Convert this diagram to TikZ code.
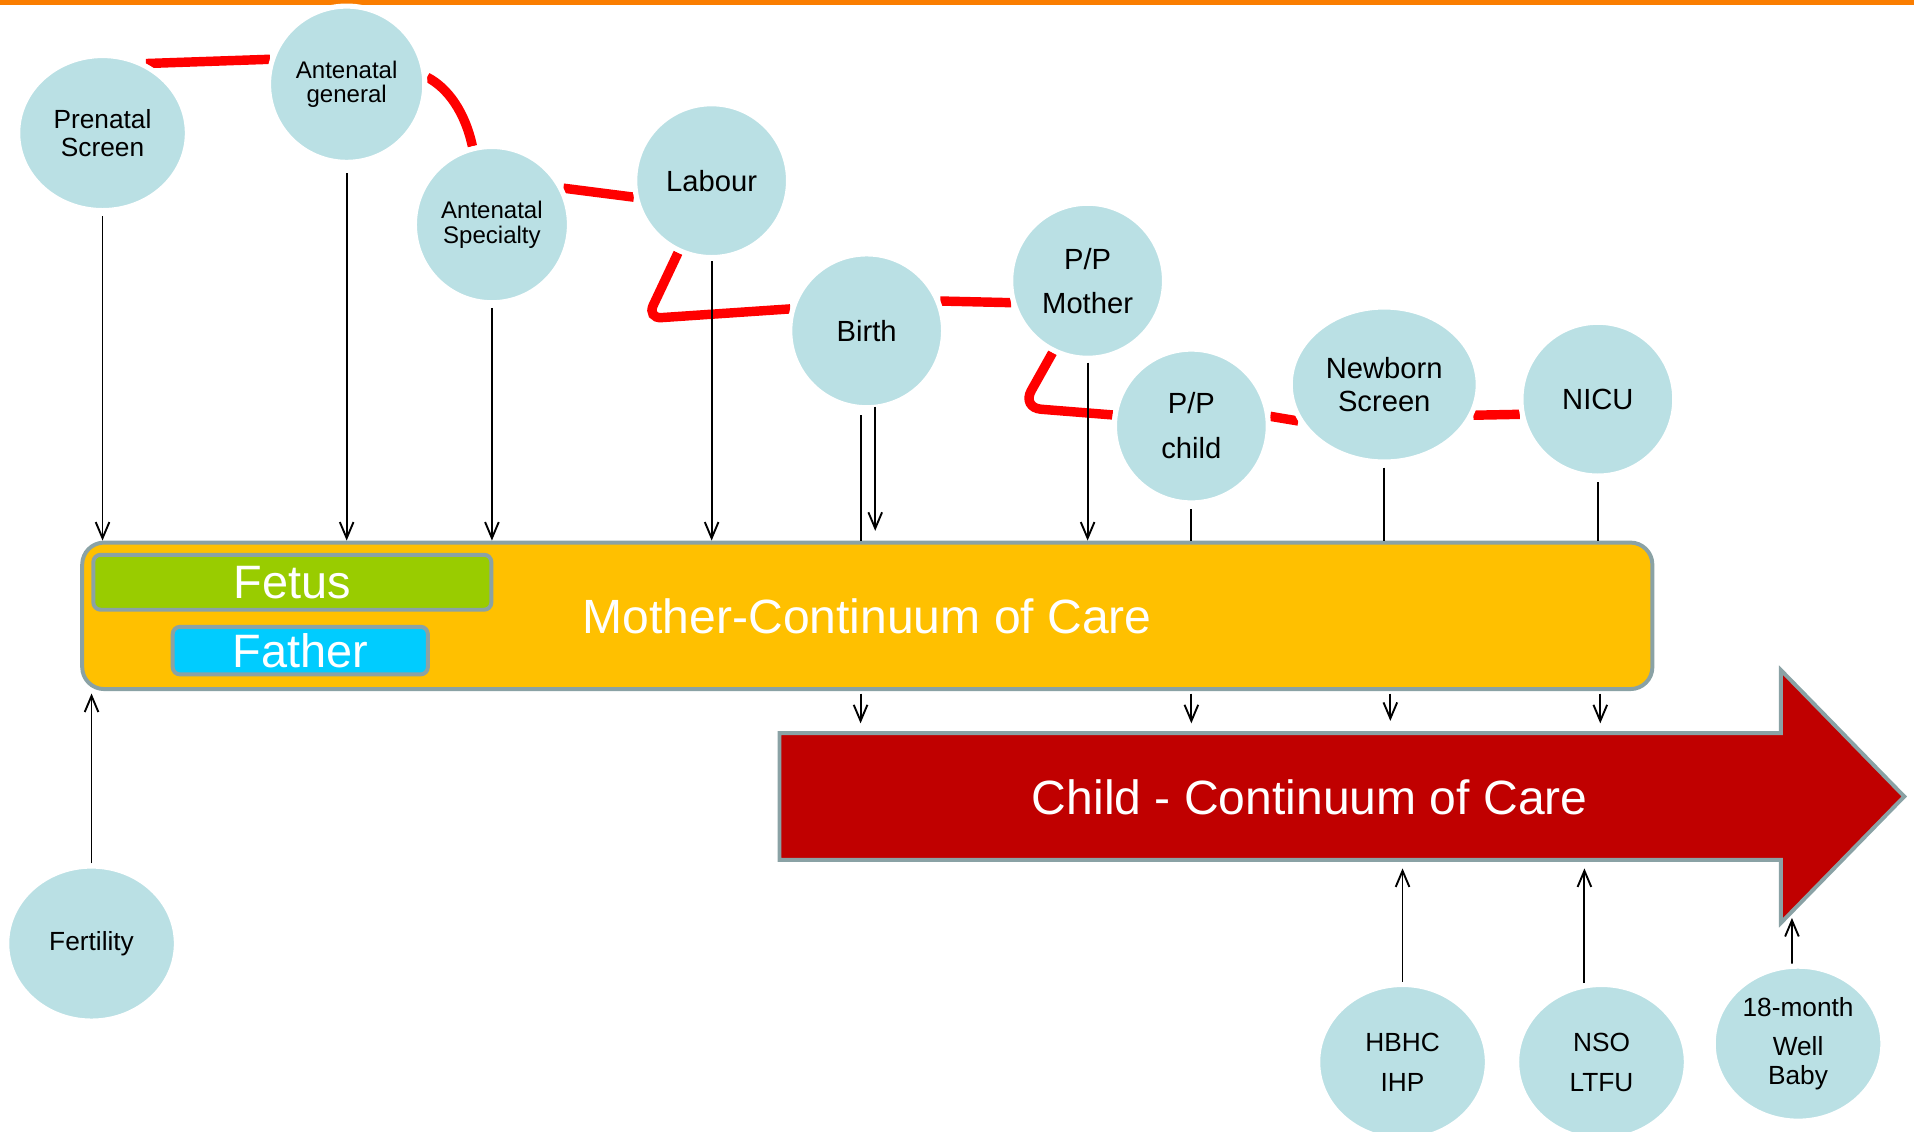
\documentclass[tikz,border=0pt]{standalone}
\usepackage{fontspec}
\setmainfont{Liberation Sans}
\usetikzlibrary{shapes.geometric,arrows.meta,backgrounds}
\definecolor{topor}{RGB}{250,125,0}
\definecolor{cblue}{RGB}{186,224,228}
\definecolor{cred}{RGB}{255,0,0}
\definecolor{myyel}{RGB}{255,192,0}
\definecolor{bgray}{RGB}{138,162,165}
\definecolor{mygreen}{RGB}{153,204,0}
\definecolor{mycyan}{RGB}{0,204,255}
\definecolor{dred}{RGB}{192,0,0}
\begin{document}
\begin{tikzpicture}[x=0.025cm,y=-0.025cm,
  circ/.style={ellipse, fill=cblue, draw=white, line width=3pt, inner sep=0pt, align=center, text=black},
  fs/.style={font=\fontsize{15.3}{16.7}\selectfont},
  fm/.style={font=\fontsize{17}{20}\selectfont},
  redlink/.style={draw=cred, line width=5.5pt},
  arr/.style={-{Straight Barb[length=3.3mm,width=2.8mm]}, line width=1.1pt},
  ln/.style={line width=1.1pt},
  bigtxt/.style={text=white, font=\fontsize{28}{30}\selectfont},
  boxst/.style={draw=bgray, line width=2.3pt, inner sep=0pt},
]
\useasboundingbox (0,0) rectangle (1568,927);
\fill[topor] (0,0) rectangle (1568,4.5);

% ellipses
\node[circ, fs, minimum width=3.475cm, minimum height=3.175cm] (prenatal) at (84,109) {Prenatal\\Screen};
\node[circ, font=\fontsize{14}{13.8}\selectfont, minimum width=3.2cm, minimum height=3.2cm] (antgen) at (284,69) {Antenatal\\general};
\node[circ, font=\fontsize{14}{14.6}\selectfont, minimum width=3.175cm, minimum height=3.2cm] (antspec) at (403,184) {Antenatal\\Specialty};
\node[circ, fm, minimum width=3.15cm, minimum height=3.15cm] (labour) at (583,148) {Labour};
\node[circ, fm, minimum width=3.15cm, minimum height=3.15cm] (birth) at (710,271) {Birth};
\node[circ, font=\fontsize{17}{25.8}\selectfont, minimum width=3.15cm, minimum height=3.175cm] (ppm) at (891,230) {P/P\\Mother};
\node[circ, font=\fontsize{17}{26.2}\selectfont, minimum width=3.15cm, minimum height=3.15cm] (ppc) at (976,349) {P/P\\child};
\node[circ, font=\fontsize{17}{18.8}\selectfont, minimum width=3.85cm, minimum height=3.175cm] (newborn) at (1134,315) {Newborn\\Screen};
\node[circ, fm, minimum width=3.15cm, minimum height=3.15cm] (nicu) at (1309,327) {NICU};
\node[circ, fs, minimum width=3.475cm, minimum height=3.175cm] (fertility) at (75,773) {Fertility};
\node[circ, font=\fontsize{15.3}{23.3}\selectfont, minimum width=3.475cm, minimum height=3.175cm] (hbhc) at (1149,870) {HBHC\\IHP};
\node[circ, font=\fontsize{15.3}{23.3}\selectfont, minimum width=3.475cm, minimum height=3.175cm] (nso) at (1312,870) {NSO\\LTFU};
\node[circ, font=\fontsize{15.3}{17}\selectfont, minimum width=3.475cm, minimum height=3.175cm] (wellbaby) at (1473,855) {18-month\\[5.8pt]Well\\Baby};

% red pathway
\begin{scope}[on background layer]
\draw[redlink] (prenatal.58) -- (antgen.162);
\draw[redlink] (antgen.5) .. controls (367,72) and (381,92) .. (antspec.104);
\draw[redlink] (antspec.27) -- (labour.192);
\coordinate (lbcorner) at (530,261);
\draw[redlink, rounded corners=0.3cm] (labour.245) -- (lbcorner) -- (birth.164);
\draw[redlink] (birth.22) -- (ppm.196);
\coordinate (ppcorner) at (837,334);
\draw[redlink, rounded corners=0.4cm] (ppm.244) -- (ppcorner) -- (ppc.172);
\draw[redlink] (ppc.7) -- (newborn.203);
\draw[redlink] (newborn.341) -- (nicu.191);
\end{scope}

% mother box
\node[boxst, fill=myyel, rounded corners=0.45cm, minimum width=32.15cm, minimum height=3.0cm, bigtxt] (mother) at (710.5,504.5) {Mother-Continuum of Care};
\node[boxst, fill=mygreen, rounded corners=0.15cm, minimum width=8.15cm, minimum height=1.125cm, text=white, font=\fontsize{27.3}{29}\selectfont] (fetus) at (239.5,477) {Fetus};
\node[boxst, fill=mycyan, rounded corners=0.15cm, minimum width=5.225cm, minimum height=0.975cm, text=white, font=\fontsize{27.3}{29}\selectfont] (father) at (246,533) {Father};

% child arrow
\coordinate (cbodytop) at (638.6,600.6);
\coordinate (cbodybot) at (638.6,704.4);
\draw[draw=bgray, line width=2.3pt, fill=dred, line join=miter] (cbodytop) -- (1459,600.6) -- (1459,549) -- (1560,652.5) -- (1459,756) -- (1459,704.4) -- (cbodybot) -- cycle;
\node[bigtxt] (childlbl) at (1073,653) {Child - Continuum of Care};

% arrows into mother box
\draw[arr] (prenatal.south) ++(0,2.5) -- (prenatal.south |- mother.north);
\draw[arr] (antgen.south) ++(0,7) -- (antgen.south |- mother.north);
\draw[arr] (antspec.south) ++(0,2) -- (antspec.south |- mother.north);
\draw[arr] (labour.south) ++(0,1) -- (labour.south |- mother.north);
\draw[ln] ([xshift=-0.125cm]birth.south) ++(0,4) -- ([xshift=-0.125cm]birth.south |- mother.north);
\draw[arr, shorten >=0.2cm] ([xshift=0.175cm]birth.south) ++(0,-3) -- ([xshift=0.175cm]birth.south |- mother.north);
\draw[arr] (ppm.south) ++(0,1.5) -- (ppm.south |- mother.north);
\draw[ln] (ppc.south) ++(0,3) -- (ppc.south |- mother.north);
\draw[ln] (newborn.south) ++(0,2.5) -- (newborn.south |- mother.north);
\draw[ln] (nicu.south) ++(0,3) -- (nicu.south |- mother.north);
\draw[arr, shorten >=0.05cm] (fertility.north) -- (fertility.north |- mother.south);

% arrows into child arrow
\draw[arr, shorten >=0.2cm] ([xshift=-0.125cm]birth.south |- mother.south) ++(0,2) -- ([xshift=-0.125cm]birth.south |- cbodytop);
\draw[arr, shorten >=0.2cm] (ppc.south |- mother.south) ++(0,2) -- (ppc.south |- cbodytop);
\draw[arr, shorten >=0.25cm] ([xshift=0.125cm]newborn.south |- mother.south) ++(0,2) -- ([xshift=0.125cm]newborn.south |- cbodytop);
\draw[arr, shorten >=0.2cm] ([xshift=0.05cm]nicu.south |- mother.south) ++(0,2) -- ([xshift=0.05cm]nicu.south |- cbodytop);
\draw[arr, shorten >=0.175cm] (hbhc.north) -- (hbhc.north |- cbodybot);
\draw[arr, shorten >=0.175cm] ([xshift=-0.35cm]nso.north) ++(0,1) -- ([xshift=-0.35cm]nso.north |- cbodybot);
\coordinate (wbtip) at (1468,752);
\draw[arr] ([xshift=-0.125cm]wellbaby.north) -- (wbtip);
\end{tikzpicture}
\end{document}
